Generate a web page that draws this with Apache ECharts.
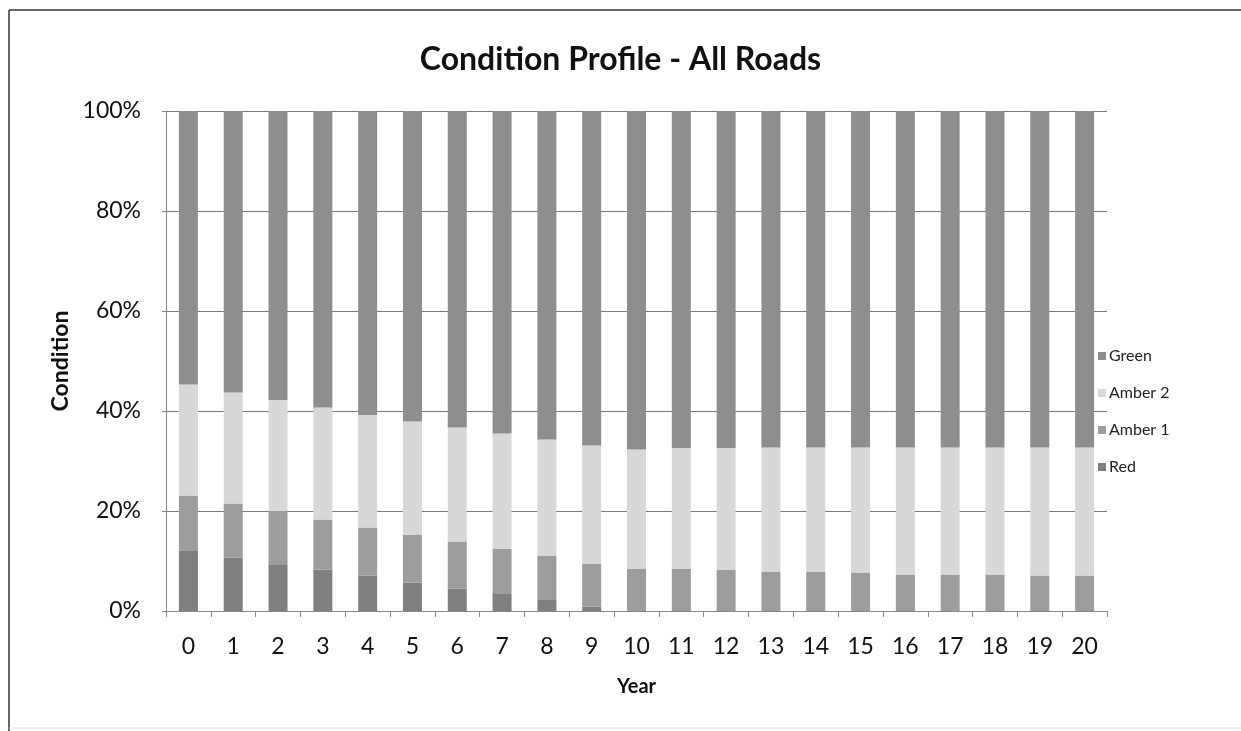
<!DOCTYPE html>
<html>
<head>
<meta charset="utf-8">
<script src="https://cdn.jsdelivr.net/npm/echarts@6/dist/echarts.min.js"></script>
<style>
html,body{margin:0;padding:0;background:#fff;}
#chart{width:1241px;height:731px;}
</style>
</head>
<body>
<div id="chart"></div>
<script>
const years = ['0','1','2','3','4','5','6','7','8','9','10','11','12','13','14','15','16','17','18','19','20'];
const red    = [12.0, 10.7, 9.2, 8.3, 7.1, 5.7, 4.5, 3.4, 2.2, 0.9, 0, 0, 0, 0, 0, 0, 0, 0, 0, 0, 0];
const amber1 = [11.1, 10.8, 10.8, 10.0, 9.6, 9.5, 9.4, 9.0, 8.9, 8.6, 8.4, 8.4, 8.2, 7.9, 7.9, 7.7, 7.3, 7.3, 7.3, 7.1, 7.1];
const amber2 = [22.2, 22.2, 22.2, 22.4, 22.5, 22.7, 22.8, 23.1, 23.2, 23.6, 23.9, 24.2, 24.4, 24.8, 24.8, 25.0, 25.4, 25.4, 25.4, 25.6, 25.6];
const green  = [54.7, 56.3, 57.8, 59.3, 60.8, 62.1, 63.3, 64.5, 65.7, 66.9, 67.7, 67.4, 67.4, 67.3, 67.3, 67.3, 67.3, 67.3, 67.3, 67.3, 67.3];
const yTicks = [0, 20, 40, 60, 80, 100];

const FONT = 'Lato, "Open Sans", sans-serif';
const chart = echarts.init(document.getElementById('chart'), null, {renderer: 'canvas'});

function bar(name, data, color) {
  return {
    name: name, type: 'bar', stack: 'total', data: data,
    barWidth: 19,
    itemStyle: {color: color},
    emphasis: {disabled: true}
  };
}

chart.setOption({
  animation: false,
  backgroundColor: '#ffffff',
  title: {
    text: 'Condition Profile - All Roads',
    left: 'center',
    top: 39,
    textStyle: {fontFamily: FONT, fontSize: 32, fontWeight: 'bold', color: '#111'}
  },
  legend: {
    orient: 'vertical',
    left: 1093,
    top: 343,
    itemWidth: 8,
    itemHeight: 8,
    itemGap: 21,
    icon: 'rect',
    data: ['Green', 'Amber 2', 'Amber 1', 'Red'],
    textStyle: {fontFamily: FONT, fontSize: 16, color: '#222', padding: [0, 0, 0, -2]}
  },
  grid: {left: 166, right: 134, top: 111, bottom: 120, containLabel: false},
  xAxis: {
    type: 'category',
    data: years,
    name: 'Year',
    nameLocation: 'middle',
    nameGap: 66,
    nameTextStyle: {fontFamily: FONT, fontSize: 20, fontWeight: 'bold', color: '#111'},
    axisLine: {lineStyle: {color: '#888', width: 1}},
    axisTick: {show: true, length: 6, lineStyle: {color: '#888'}},
    axisLabel: {fontFamily: FONT, fontSize: 23, color: '#111', margin: 24}
  },
  yAxis: {
    type: 'value',
    min: yTicks[0],
    max: yTicks[yTicks.length - 1],
    interval: 20,
    name: 'Condition',
    nameLocation: 'middle',
    nameGap: 92,
    nameTextStyle: {fontFamily: FONT, fontSize: 23, fontWeight: 'bold', color: '#111'},
    axisLine: {show: true, lineStyle: {color: '#888', width: 1}},
    axisTick: {show: true, length: 4, lineStyle: {color: '#888'}},
    axisLabel: {fontFamily: FONT, fontSize: 23, color: '#111', margin: 25, formatter: '{value}%'},
    splitLine: {show: true, lineStyle: {color: '#7a7a7a', width: 1}}
  },
  series: [
    bar('Red', red, '#7f7f7f'),
    bar('Amber 1', amber1, '#9d9d9d'),
    bar('Amber 2', amber2, '#d8d8d8'),
    bar('Green', green, '#8e8e8e')
  ],
  graphic: [
    {type: 'line', shape: {x1: 9, y1: 10, x2: 1241, y2: 10}, style: {stroke: '#333', lineWidth: 1.5}, silent: true},
    {type: 'line', shape: {x1: 9, y1: 10, x2: 9, y2: 731}, style: {stroke: '#333', lineWidth: 1.5}, silent: true},
    {type: 'line', shape: {x1: 9, y1: 728, x2: 1241, y2: 728}, style: {stroke: '#ddd', lineWidth: 1}, silent: true}
  ]
});
</script>
</body>
</html>
